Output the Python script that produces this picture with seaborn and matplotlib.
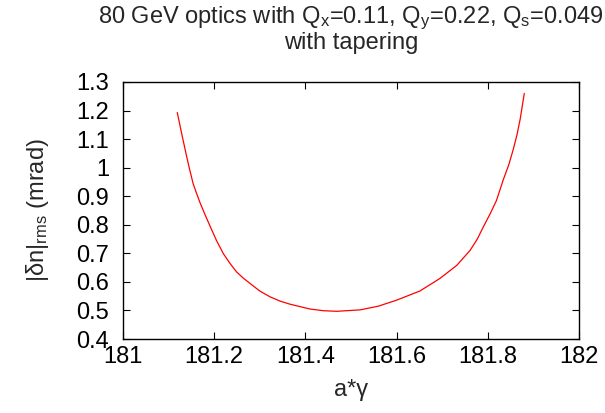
import matplotlib
matplotlib.use("Agg")
import matplotlib.pyplot as plt
import seaborn as sns
import pandas as pd
from matplotlib.ticker import FuncFormatter

# data
a_gamma = [181.119, 181.129, 181.140, 181.147, 181.154, 181.162, 181.169, 181.180,
           181.191, 181.205, 181.220, 181.235, 181.249, 181.264, 181.279, 181.300,
           181.322, 181.344, 181.366, 181.410, 181.440, 181.469, 181.520, 181.560,
           181.600, 181.651, 181.695, 181.732, 181.761, 181.777, 181.790, 181.805,
           181.819, 181.834, 181.846, 181.856, 181.864, 181.871, 181.880]
dn_rms = [1.193, 1.117, 1.036, 0.988, 0.943, 0.907, 0.877, 0.835,
          0.795, 0.745, 0.699, 0.664, 0.635, 0.613, 0.594, 0.568,
          0.548, 0.533, 0.522, 0.505, 0.499, 0.497, 0.502, 0.515,
          0.536, 0.568, 0.612, 0.658, 0.710, 0.750, 0.792, 0.838,
          0.885, 0.958, 1.010, 1.065, 1.115, 1.170, 1.260]
x_ticks = [181, 181.2, 181.4, 181.6, 181.8, 182]
y_ticks = [0.4, 0.5, 0.6, 0.7, 0.8, 0.9, 1.0, 1.1, 1.2, 1.3]

sns.set_style("ticks")
plt.rcParams['font.family'] = ['Liberation Sans', 'DejaVu Sans']
plt.rcParams['mathtext.fontset'] = 'custom'
plt.rcParams['mathtext.rm'] = 'Liberation Sans'
plt.rcParams['mathtext.it'] = 'Liberation Sans:italic'

df = pd.DataFrame({"x": a_gamma, "y": dn_rms})

FS = 17
fig = plt.figure(figsize=(6.05, 4.13), dpi=100)
ax = fig.add_axes([123/605, 1-339/413, (579-123)/605, (339-82)/413])
sns.lineplot(data=df, x="x", y="y", ax=ax, color="red", lw=0.9,
             sort=False, estimator=None)

ax.set_xlim(181, 182)
ax.set_ylim(0.4, 1.3)
ax.set_xticks(x_ticks)
ax.set_yticks(y_ticks)
fmt = FuncFormatter(lambda v, p: "%g" % round(v, 3))
ax.xaxis.set_major_formatter(fmt)
ax.yaxis.set_major_formatter(fmt)
ax.tick_params(direction="in", length=5, width=0.8, top=True, right=True,
               labelsize=FS, colors="black")
ax.tick_params(axis="x", pad=5)
ax.tick_params(axis="y", pad=10)
for s in ax.spines.values():
    s.set_linewidth(1.0)
    s.set_color("black")

ax.set_xlabel("a*γ", fontsize=FS, labelpad=8)
ax.set_ylabel(r"$\mathregular{|δn|_{rms}}$ (mrad)", fontsize=FS, labelpad=18)
ax.set_title("80 GeV optics with $\\mathregular{Q_x}$=0.11, $\\mathregular{Q_y}$=0.22, "
             "$\\mathregular{Q_s}$=0.049\nwith tapering", fontsize=FS,
             linespacing=1.0, pad=24)

fig.savefig("out.png", dpi=100)
